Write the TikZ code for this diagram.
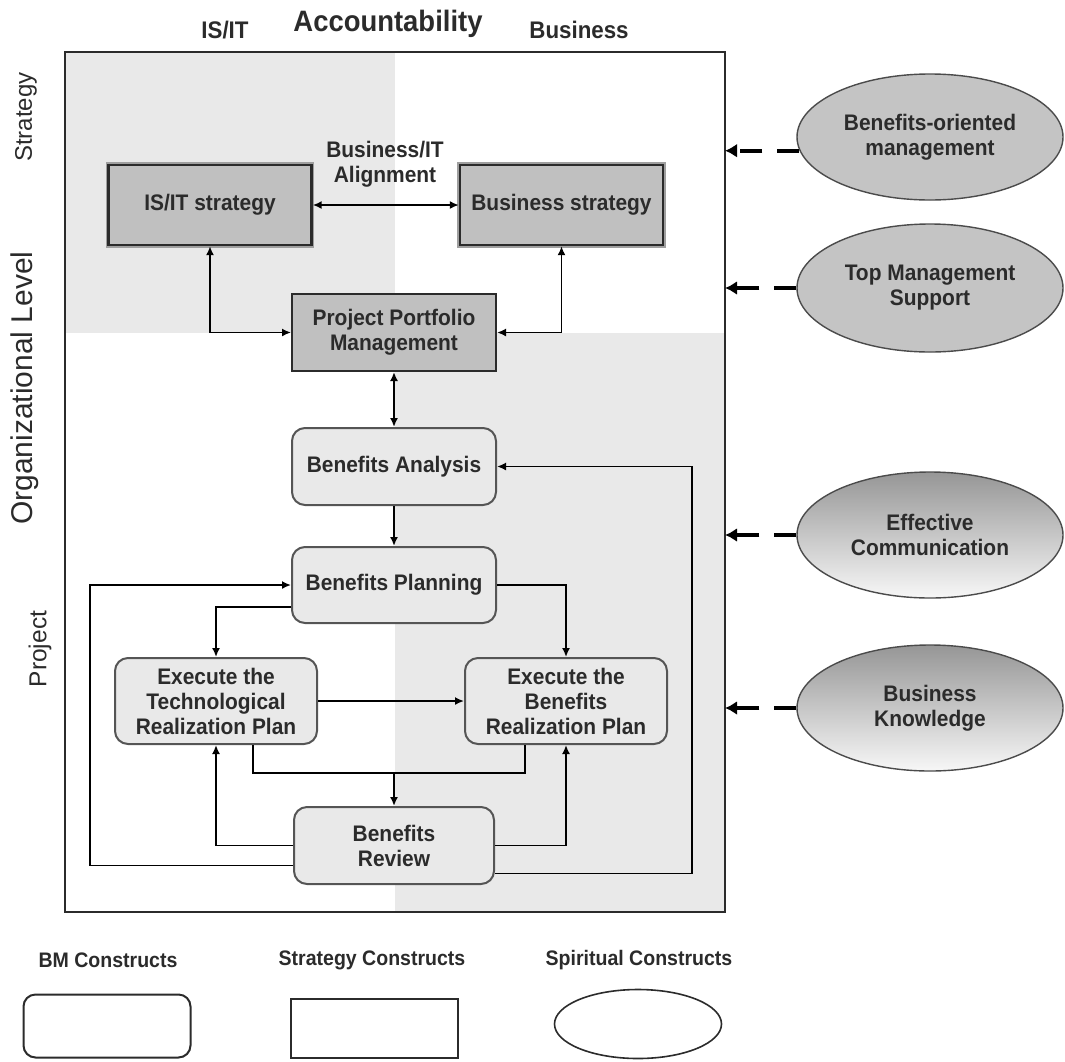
\documentclass[tikz,border=0pt]{standalone}
\usepackage{fontspec}
\setmainfont{Liberation Sans}[FakeStretch=0.93]
\newfontfamily\sidefont{Liberation Sans}
\usetikzlibrary{arrows.meta,calc,shapes.geometric}

\definecolor{panel}{HTML}{E9E9E9}
\definecolor{stratfill}{HTML}{C0C0C0}
\definecolor{ink}{HTML}{2B2B2B}
\definecolor{edge}{HTML}{555555}
\definecolor{spiritfill}{HTML}{C4C4C4}
\definecolor{shadetop}{HTML}{969696}
\definecolor{shadebot}{HTML}{F7F7F7}

\tikzset{
  txt/.style={font=\bfseries\fontsize{22.5}{25}\selectfont, text=ink, align=center},
  stratbox/.style={txt, rectangle, fill=stratfill, draw=ink, line width=2.4pt,
    minimum width=203pt, minimum height=80pt, inner sep=0pt,
    preaction={draw=gray!75, line width=5.5pt}},
  portbox/.style={txt, rectangle, fill=stratfill, draw=ink, line width=2pt,
    minimum width=204pt, minimum height=77pt, inner sep=0pt},
  bmbox/.style={txt, rectangle, rounded corners=13pt, fill=panel, draw=edge,
    line width=2pt, minimum width=204pt, minimum height=77pt, inner sep=0pt},
  spirit/.style={txt, ellipse, draw=ink!85, line width=1.4pt,
    minimum width=266pt, minimum height=126pt, inner sep=0pt},
  flow/.style={draw=black, line width=1.7pt, -{Latex[length=9pt,width=8pt]}},
  twoway/.style={flow, {Latex[length=9pt,width=8pt]}-{Latex[length=9pt,width=8pt]}},
  influence/.style={draw=black, line width=4pt, dash pattern=on 22pt off 15pt,
    -{Latex[length=12pt,width=14pt]}},
  sidelabel/.style={text=ink, rotate=90, inner sep=0pt},
  toplabel/.style={text=ink, font=\bfseries\fontsize{24}{28}\selectfont, inner sep=0pt},
  legendtxt/.style={text=ink, font=\bfseries\fontsize{21}{24}\selectfont, inner sep=0pt},
  legendshape/.style={draw=ink, line width=2pt, fill=white, inner sep=0pt},
}

\begin{document}
\begin{tikzpicture}[x=1pt,y=-1pt]
\useasboundingbox (0,0) rectangle (1065,1061);

% accountability quadrants
\fill[panel] (65,52) rectangle (395,333);
\fill[panel] (395,333) rectangle (725,912);
\draw[ink, line width=2pt] (65,52) rectangle (725,912);
\coordinate (frameNE) at (725,52);

% axis labels
\node[toplabel] (isitlbl) at (225,30) {IS/IT};
\node[toplabel, font=\bfseries\fontsize{29.5}{32}\selectfont] (acclbl) at (388,24) {Accountability};
\node[toplabel] (buslbl) at (579,30) {Business};
\node[sidelabel, font=\sidefont\fontsize{24}{28}\selectfont] (stratlbl) at (26,117) {Strategy};
\node[sidelabel, font=\sidefont\fontsize{30}{34}\selectfont] (orglbl) at (25,388) {Organizational Level};
\node[sidelabel, font=\sidefont\fontsize{24.5}{28}\selectfont] (projlbl) at (40,649) {Project};

% strategy constructs
\node[stratbox] (isit) at (210,205) {IS/IT strategy};
\node[stratbox] (bus) at (561.5,205) {Business strategy};
\node[txt] (alignlbl) at (385,164.5) {Business/IT\\Alignment};
\node[portbox] (ppm) at (394,332.5) {Project Portfolio\\Management};

% benefits management constructs
\node[bmbox] (ba) at (394,466.5) {Benefits Analysis};
\node[bmbox, minimum height=76pt] (bp) at (394,585) {Benefits Planning};
\node[bmbox, minimum width=202pt, minimum height=86pt] (tech) at (216,701)
  {Execute the\\Technological\\Realization Plan};
\node[bmbox, minimum width=202pt, minimum height=86pt] (ben) at (566,701)
  {Execute the\\Benefits\\Realization Plan};
\node[bmbox, minimum width=200pt] (br) at (394,845.5) {Benefits\\Review};

% connectors
\draw[twoway] (isit) -- (bus);
\draw[twoway] (isit.south) |- (ppm.west);
\draw[twoway] (bus.south) |- (ppm.east);
\draw[twoway] (ppm) -- (ba);
\draw[flow] (ba) -- (bp);
\draw[flow] ([yshift=-22pt]bp.west) -| (tech.north);
\draw[flow] (bp.east) -| (ben.north);
\draw[flow] (tech) -- (ben);
\coordinate (junc) at ($(br.north)+(0,-33)$);
\draw[line width=1.7pt] ([xshift=37pt]tech.south) |- (junc) -| ([xshift=-41pt]ben.south);
\draw[flow] (junc) -- (br.north);
\draw[flow] (br.west) -| (tech.south);
\draw[flow] (br.east) -| (ben.south);
\coordinate (leftrail) at (90,0);
\coordinate (rightrail) at (692,0);
\draw[flow] ([yshift=-20pt]br.west) -| (leftrail |- bp.west) -- (bp.west);
\draw[flow] ([yshift=-28pt]br.east) -| (rightrail |- ba.east) -- (ba.east);

% spiritual constructs
\node[spirit, fill=spiritfill] (bom) at (930,137) {Benefits-oriented\\management};
\node[spirit, fill=spiritfill, minimum height=128pt] (tms) at (930,288) {Top Management\\Support};
\node[spirit, top color=shadetop, bottom color=shadebot] (ecom) at (930,535) {Effective\\Communication};
\node[spirit, top color=shadetop, bottom color=shadebot] (bk) at (930,708) {Business\\Knowledge};

\draw[influence] (bom.186) -- (bom.186 -| frameNE);
\draw[influence] (tms.west) -- (tms.west -| frameNE);
\draw[influence] (ecom.west) -- (ecom.west -| frameNE);
\draw[influence] (bk.west) -- (bk.west -| frameNE);

% legend
\node[legendtxt] (lgbm) at (108,960) {BM Constructs};
\node[legendtxt] (lgst) at (372,960) {Strategy Constructs};
\node[legendtxt] (lgsp) at (639,960) {Spiritual Constructs};
\node[legendshape, rounded corners=12pt, minimum width=167pt, minimum height=63pt] (lgbmshape) at (107,1026) {};
\node[legendshape, minimum width=167pt, minimum height=59pt] (lgstshape) at (374,1028) {};
\node[legendshape, ellipse, line width=1.6pt, minimum width=167pt, minimum height=69pt] (lgspshape) at (638,1024) {};
\end{tikzpicture}
\end{document}
